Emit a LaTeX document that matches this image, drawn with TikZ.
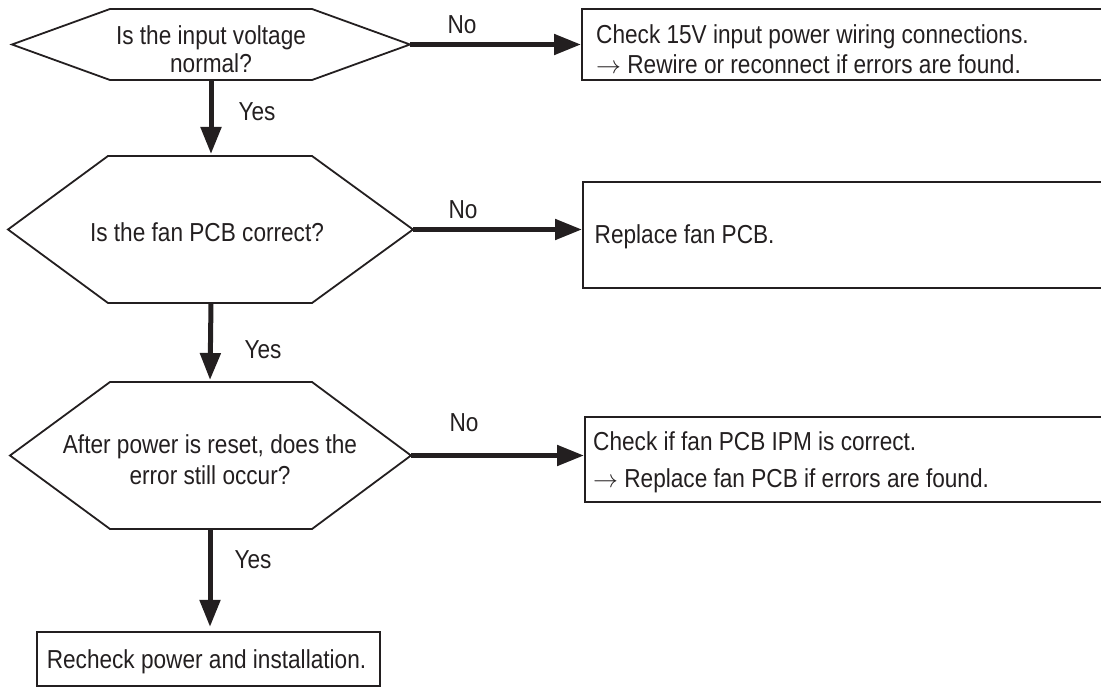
\documentclass[tikz,border=0pt]{standalone}
\usepackage{fontspec}
\setmainfont{Liberation Sans}[FakeStretch=0.87]
\usetikzlibrary{arrows.meta}
\definecolor{ink}{RGB}{35,31,32}
\begin{document}
\begin{tikzpicture}[x=1pt,y=-1pt,
  hexline/.style={draw=ink, line width=1.8pt, line join=miter},
  boxline/.style={draw=ink, line width=2.2pt, inner sep=0pt, anchor=west},
  btext/.style={text=ink, inner sep=0pt, anchor=west, align=left, font=\fontsize{26}{30}\selectfont},
  arr/.style={draw=ink, line width=5pt, -{Triangle[length=27pt,width=20pt]}},
  lbl/.style={text=ink, font=\fontsize{26}{28}\selectfont, inner sep=0pt},
  qtext/.style={lbl, align=center}]
\useasboundingbox (0,0) rectangle (1101,687);
\clip (0,0) rectangle (1101,687);

% decision 1
\coordinate (h1W) at (12,44.5);
\coordinate (h1E) at (410,44.5);
\coordinate (h1N) at (211,9);
\coordinate (h1S) at (211,80);
\draw[hexline] (h1W) -- (110,9) -- (312,9) -- (h1E) -- (312,80) -- (110,80) -- cycle;
\node[qtext, font=\fontsize{26}{28}\selectfont] (q1) at (211,49) {Is the input voltage\\normal?};

% decision 2
\coordinate (h2W) at (8,229.5);
\coordinate (h2E) at (413,229.5);
\coordinate (h2N) at (211,156);
\coordinate (h2S) at (211,303);
\draw[hexline] (h2W) -- (108,156) -- (312,156) -- (h2E) -- (312,303) -- (108,303) -- cycle;
\node[qtext] (q2) at (207,232) {Is the fan PCB correct?};

% decision 3
\coordinate (h3W) at (10,455.5);
\coordinate (h3E) at (411,455.5);
\coordinate (h3N) at (210,382);
\coordinate (h3S) at (210,529);
\draw[hexline] (h3W) -- (110,382) -- (312,382) -- (h3E) -- (312,529) -- (110,529) -- cycle;
\node[qtext, font=\fontsize{26}{31}\selectfont] (q3) at (210,460) {After power is reset, does the\\error still occur?};

% action boxes
\node[boxline, minimum height=71pt, minimum width=523pt] (b1) at (581,44.5) {};
\node[btext] (t1) at (596,49) {Check 15V input power wiring connections.\\$\rightarrow$ Rewire or reconnect if errors are found.};
\node[boxline, minimum height=106pt, minimum width=523pt] (b2) at (582,235) {};
\node[btext] (t2) at (594.5,237) {Replace fan PCB.};
\node[boxline, minimum height=85pt, minimum width=523pt] (b3) at (584,459.5) {};
\node[btext, font=\fontsize{26}{37}\selectfont] (t3) at (593,462) {Check if fan PCB IPM is correct.\\$\rightarrow$ Replace fan PCB if errors are found.};
\node[boxline, anchor=center, minimum height=54pt, minimum width=343pt] (b4) at (208.5,659) {};
\node[lbl] (t4) at (206.5,662) {Recheck power and installation.};

% connectors
\draw[arr] (h1E) -- (h1E -| b1.west);
\draw[arr] (h2E) -- (h2E -| b2.west);
\draw[arr] (h3E) -- (h3E -| b3.west);
\draw[arr, shorten >=2pt] (h1S) -- (h2N);
\draw[arr, shorten >=2pt] (h2S) -- (h3N);
\draw[arr, shorten >=4pt] (h3S) -- (h3S |- b4.north);

% labels
\node[lbl] (n1) at (462,25) {No};
\node[lbl] (n2) at (463,210) {No};
\node[lbl] (n3) at (464,423) {No};
\node[lbl] (y1) at (257,112) {Yes};
\node[lbl] (y2) at (263,350) {Yes};
\node[lbl] (y3) at (253,560) {Yes};
\end{tikzpicture}
\end{document}
